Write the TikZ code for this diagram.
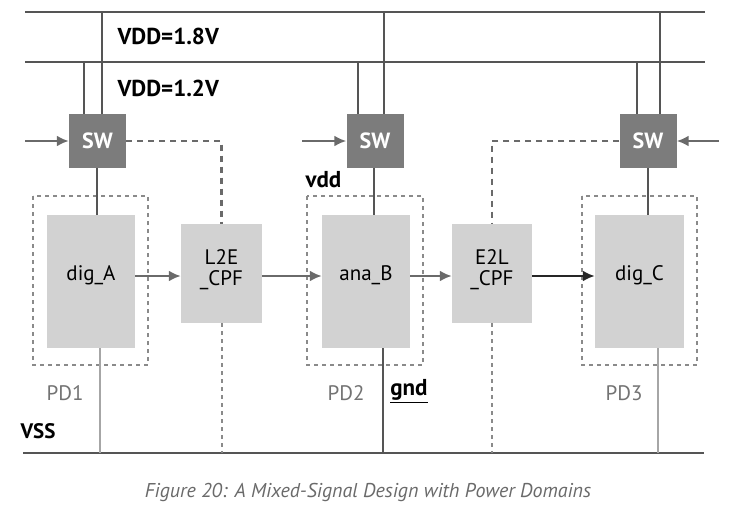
\documentclass[tikz,border=0pt]{standalone}
\usepackage{fontspec}
\setmainfont{PT Sans}
\usetikzlibrary{arrows.meta}
\definecolor{railgray}{HTML}{555555}
\definecolor{swgray}{HTML}{7C7C7C}
\definecolor{blkgray}{HTML}{D2D2D2}
\definecolor{dashgray}{HTML}{6A6A6A}
\definecolor{pdgray}{HTML}{8A8A8A}
\definecolor{capgray}{HTML}{6A6A6A}

\begin{document}
\begin{tikzpicture}[x=1pt, y=-1pt,
	rail/.style={line width=2.8pt, color=railgray},
	feed/.style={line width=2.4pt, color=railgray},
	swbox/.style={draw=none, fill=swgray, minimum width=57pt, minimum height=54pt, inner sep=0pt,
		text=white, font=\fontsize{22}{24}\selectfont\bfseries},
	blk/.style={draw=none, fill=blkgray, inner sep=0pt, font=\fontsize{21}{21}\selectfont, align=center},
	pdbox/.style={draw=pdgray, line width=2.2pt, dash pattern=on 4pt off 4pt},
	ctrl/.style={draw=dashgray, line width=2.2pt, dash pattern=on 6pt off 5pt},
	ctrllow/.style={draw=pdgray, line width=2pt, dash pattern=on 4pt off 4pt},
	sig/.style={line width=2.4pt, color=dashgray, -{Latex[length=12pt, width=11pt]}},
	gndthin/.style={line width=1.4pt, color=gray!70},
	lbl/.style={font=\fontsize{23}{25}\selectfont\bfseries},
	pdlbl/.style={font=\fontsize{21}{22}\selectfont, text=gray!90!black}]
			%%%%% START %%%%%
			\useasboundingbox (0, 0) rectangle (729, 512);

			% power rails
			\coordinate (v18a) at (25, 12);
			\coordinate (v18b) at (705, 12);
			\coordinate (v12a) at (25, 62);
			\coordinate (v12b) at (705, 62);
			\coordinate (vssa) at (23, 453);
			\coordinate (vssb) at (704, 453);
			\draw[rail] (v18a) -- (v18b);
			\draw[rail] (v12a) -- (v12b);
			\draw[rail] (vssa) -- (vssb);

			\node[lbl, anchor=west] (l18) at (114, 36) {VDD=1.8V};
			\node[lbl, anchor=west] (l12) at (114, 88) {VDD=1.2V};
			\node[lbl, anchor=west, font=\fontsize{21}{22}\selectfont\bfseries] (lvss) at (17, 431) {VSS};

			% switches
			\node[swbox] (sw1) at (97.5, 141) {SW};
			\node[swbox] (sw2) at (375, 141) {SW};
			\node[swbox] (sw3) at (648, 141) {SW};

			\draw[feed] ([xshift=-13.5pt]sw1.north) -- ([xshift=-13.5pt]sw1.north |- v12a);
			\draw[feed] ([xshift=4.5pt]sw1.north) -- ([xshift=4.5pt]sw1.north |- v18a);
			\draw[feed] ([xshift=-17pt]sw2.north) -- ([xshift=-17pt]sw2.north |- v12a);
			\draw[feed] ([xshift=9pt]sw2.north) -- ([xshift=9pt]sw2.north |- v18a);
			\draw[feed] ([xshift=-11pt]sw3.north) -- ([xshift=-11pt]sw3.north |- v12a);
			\draw[feed] ([xshift=12pt]sw3.north) -- ([xshift=12pt]sw3.north |- v18a);

			\coordinate (in1) at (25, 141);
			\coordinate (in2) at (302, 141);
			\coordinate (in3) at (719, 141);
			\draw[sig] (in1) -- (sw1.west);
			\draw[sig] (in2) -- (sw2.west);
			\draw[sig] (in3) -- (sw3.east);

			% power domains
			\draw[pdbox] (33, 196) rectangle (148, 365);
			\draw[pdbox] (307, 196) rectangle (423, 365);
			\draw[pdbox] (582, 196) rectangle (697, 365);

			% blocks
			\node[blk, minimum width=88pt, minimum height=133pt] (digA) at (91, 281.5) {};
			\node[blk, minimum width=81pt, minimum height=99pt] (l2e) at (221.5, 273.5) {};
			\node[blk, minimum width=88pt, minimum height=133pt] (anaB) at (366, 281.5) {};
			\node[blk, minimum width=80pt, minimum height=99pt] (e2l) at (492, 273.5) {};
			\node[blk, minimum width=89pt, minimum height=133pt] (digC) at (639.5, 281.5) {};

			\node[blk, fill=none] (tA) at (91, 275) {dig\_A};
			\node[blk, fill=none] (tL) at (221.5, 270) {L2E\\\_CPF};
			\node[blk, fill=none] (tB) at (366, 275) {ana\_B};
			\node[blk, fill=none] (tE) at (492, 270) {E2L\\\_CPF};
			\node[blk, fill=none] (tC) at (639.5, 275) {dig\_C};

			\draw[feed] (sw1.south -| 97, 0) -- (digA.north -| 97, 0);
			\draw[feed] (sw2.south -| 374, 0) -- (anaB.north -| 374, 0);
			\draw[feed] (sw3.south) -- (digC.north -| sw3.south);

			% signal path
			\draw[sig] (digA.east |- 0, 276) -- (l2e.west |- 0, 276);
			\draw[sig] (l2e.east |- 0, 276) -- (anaB.west |- 0, 276);
			\draw[sig] (anaB.east |- 0, 276) -- (e2l.west |- 0, 276);
			\draw[sig, color=black!85] (e2l.east |- 0, 276) -- (digC.west |- 0, 276);

			% isolation control
			\draw[ctrl] (sw1.east) -| (l2e.north);
			\draw[ctrllow] (l2e.south) -- (l2e.south |- vssa);
			\draw[ctrl] (sw3.west) -| (e2l.north);
			\draw[ctrllow] (e2l.south) -- (e2l.south |- vssa);

			% ground
			\draw[gndthin] (digA.south -| 100, 0) -- (vssa -| 100, 0);
			\draw[feed] (anaB.south -| 383, 0) -- (vssa -| 383, 0);
			\draw[gndthin] (digC.south -| 658, 0) -- (vssa -| 658, 0);

			\node[lbl, anchor=west] (lvdd) at (302, 180) {vdd};
			\node[lbl] (lgnd) at (409, 391) {\underline{gnd}};
			\node[pdlbl] (pd1) at (65, 393) {PD1};
			\node[pdlbl] (pd2) at (346, 393) {PD2};
			\node[pdlbl] (pd3) at (624, 393) {PD3};

			\node[font=\fontsize{20}{21}\selectfont\itshape, text=capgray] (cap) at (368, 492)
				{Figure 20: A Mixed-Signal Design with Power Domains};
			%%%%% END %%%%%
\end{tikzpicture}
\end{document}
